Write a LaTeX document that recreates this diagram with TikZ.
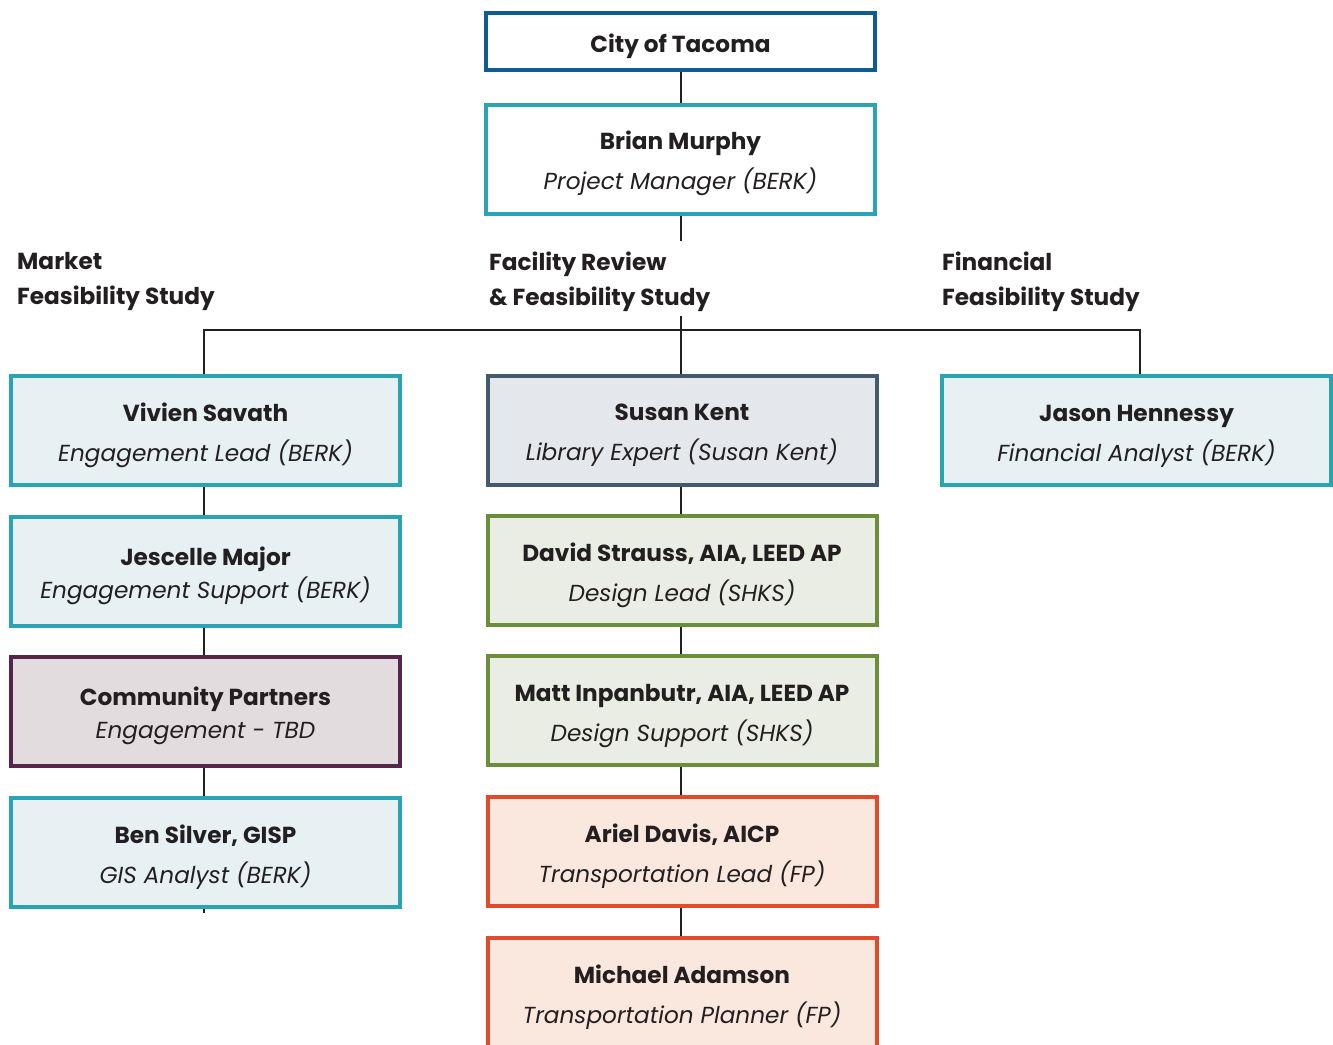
\documentclass[tikz,border=0pt]{standalone}
\usepackage{fontspec}
\setmainfont{Poppins}
\definecolor{cityblue}{HTML}{0F5C93}
\definecolor{teal}{HTML}{2AA3B5}
\definecolor{tealfill}{HTML}{E7F0F3}
\definecolor{plum}{HTML}{55264A}
\definecolor{plumfill}{HTML}{E3DCDF}
\definecolor{slate}{HTML}{435A6E}
\definecolor{slatefill}{HTML}{E4E8ED}
\definecolor{leaf}{HTML}{6A8E3A}
\definecolor{leaffill}{HTML}{E9EDE3}
\definecolor{rust}{HTML}{E14B2B}
\definecolor{rustfill}{HTML}{FAE8DF}
\definecolor{ink}{HTML}{231F20}
\newcommand\topstrut{\rule{0pt}{28pt}}
\begin{document}
\begin{tikzpicture}[x=1pt,y=-1pt,
  box/.style={draw, line width=4pt, minimum width=389pt, minimum height=109pt, align=center, text=ink, inner sep=0pt,
    font=\fontsize{23.2}{40}\selectfont},
  tight/.style={font=\fontsize{23.2}{33}\selectfont},
  tealbox/.style={box, draw=teal, fill=tealfill},
  plumbox/.style={box, draw=plum, fill=plumfill},
  slatebox/.style={box, draw=slate, fill=slatefill},
  leafbox/.style={box, draw=leaf, fill=leaffill},
  rustbox/.style={box, draw=rust, fill=rustfill},
  lbl/.style={anchor=north west, align=left, text=ink, inner sep=0pt, font=\fontsize{23.2}{35}\selectfont\bfseries},
  link/.style={draw=ink, line width=1.3pt}]
\useasboundingbox (0,0) rectangle (1333,1044);
\clip (0,0) rectangle (1333,1044);
\fill[white] (0,0) rectangle (1333,1044);
% top
\node[box, draw=cityblue, fill=white, minimum height=57pt] (city) at (680.5,41.5) {\topstrut\textbf{City of Tacoma}};
\node[tealbox, fill=white] (brian) at (680.5,159) {\topstrut\textbf{Brian Murphy}\\\textit{Project Manager (BERK)}};
% left column
\node[tealbox] (vivien) at (205.5,430.5) {\topstrut\textbf{Vivien Savath}\\\textit{Engagement Lead (BERK)}};
\node[tealbox, tight] (jescelle) at (205.5,571.5) {\topstrut\textbf{Jescelle Major}\\\textit{Engagement Support (BERK)}};
\node[plumbox, tight] (community) at (205.5,711.5) {\topstrut\textbf{Community Partners}\\\textit{Engagement - TBD}};
\node[tealbox] (ben) at (205.5,852.5) {\topstrut\textbf{Ben Silver, GISP}\\\textit{GIS Analyst (BERK)}};
% middle column
\node[slatebox] (susan) at (682,430) {\topstrut\textbf{Susan Kent}\\\textit{Library Expert (Susan Kent)}};
\node[leafbox] (david) at (682,570.5) {\topstrut\textbf{David Strauss, AIA, LEED AP}\\\textit{Design Lead (SHKS)}};
\node[leafbox] (matt) at (682,710.5) {\topstrut\textbf{Matt Inpanbutr, AIA, LEED AP}\\\textit{Design Support (SHKS)}};
\node[rustbox] (ariel) at (682,851.5) {\topstrut\textbf{Ariel Davis, AICP}\\\textit{Transportation Lead (FP)}};
\node[rustbox] (michael) at (682,992.5) {\topstrut\textbf{Michael Adamson}\\\textit{Transportation Planner (FP)}};
% right column
\node[tealbox] (jason) at (1136.5,430.5) {\topstrut\textbf{Jason Hennessy}\\\textit{Financial Analyst (BERK)}};
% connectors
\coordinate (barL) at (204,330);
\coordinate (barM) at (681,330);
\coordinate (barR) at (1140,330);
\coordinate (benend) at (204,913);
\draw[link] (city.south -| barM) -- (brian.north -| barM);
\draw[link] (brian.south -| barM) -- (barM);
\draw[link] (barL |- vivien.north) -- (barL) -- (barR) -- (barR |- jason.north);
\draw[link] (barM) -- (susan.north -| barM);
\draw[link] (vivien.south -| barL) -- (jescelle.north -| barL);
\draw[link] (jescelle.south -| barL) -- (community.north -| barL);
\draw[link] (community.south -| barL) -- (ben.north -| barL);
\draw[link] (ben.south -| barL) -- (benend);
\draw[link] (susan.south -| barM) -- (david.north -| barM);
\draw[link] (david.south -| barM) -- (matt.north -| barM);
\draw[link] (matt.south -| barM) -- (ariel.north -| barM);
\draw[link] (ariel.south -| barM) -- (michael.north -| barM);
% labels
\node[lbl] (mkt) at (17,252) {Market\\Feasibility Study};
\node[lbl, fill=white, inner sep=0pt, outer sep=0pt, minimum width=240pt, minimum height=75pt, anchor=north west] (fac) at (484,241) {};
\node[lbl] (factext) at (489,252) {Facility Review\\\& Feasibility Study};
\node[lbl] (fin) at (942,252) {Financial\\Feasibility Study};
\end{tikzpicture}
\end{document}
